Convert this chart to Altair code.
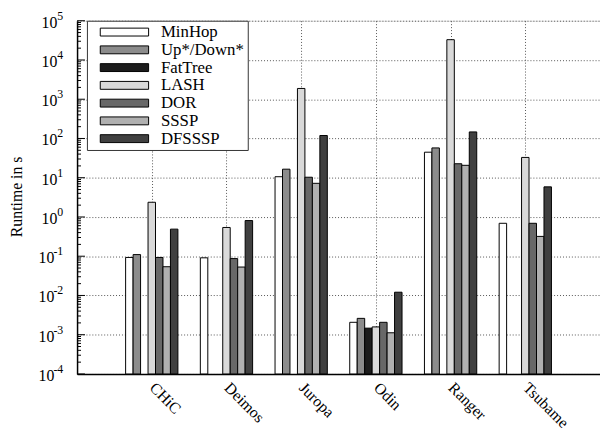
import altair as alt
import pandas as pd

systems = ["CHiC", "Deimos", "Juropa", "Odin", "Ranger", "Tsubame"]
series = ["MinHop", "Up*/Down*", "FatTree", "LASH", "DOR", "SSSP", "DFSSSP"]
colors = ["#ffffff", "#8c8c8c", "#1c1c1c", "#d9d9d9", "#686868", "#b0b0b0", "#404040"]

# runtime in seconds, None = not available
minhop = [0.093, 0.091, 10.6, 0.00207, 44.7, 0.69]
updown = [0.11, None, 16.5, 0.00261, 57.5, None]
fattree = [None, None, None, 0.00147, None, None]
lash = [2.37, 0.54, 1880, 0.00158, 32900, 32.9]
dor = [0.093, 0.087, 10.3, 0.00207, 22.7, 0.69]
sssp = [0.054, 0.053, 7.2, 0.00112, 20.7, 0.32]
dfsssp = [0.49, 0.81, 119, 0.0121, 147, 5.85]

exponents = [-4, -3, -2, -1, 0, 1, 2, 3, 4, 5]

values = [minhop, updown, fattree, lash, dor, sssp, dfsssp]
rows = []
for si, (name, vals) in enumerate(zip(series, values)):
    for ci, v in enumerate(vals):
        if v is not None:
            rows.append({"system": systems[ci], "cidx": ci, "series": name, "sidx": si, "runtime": v})
df = pd.DataFrame(rows)

decades = [10.0 ** e for e in exponents]
minor = [m * 10.0 ** e for e in exponents[:-1] for m in range(2, 10)]
ticks_df = pd.DataFrame({"v": decades})
minor_df = pd.DataFrame({"v": minor})
lab_df = pd.DataFrame({"e": exponents, "v": decades, "base": ["10"] * len(exponents),
                       "sup": [str(e) for e in exponents]})

FONT = "Liberation Serif"
yscale = alt.Scale(type="log", domain=[1e-4, 1e5], nice=False)
xscale = alt.Scale(domain=[-1, 6], nice=False, zero=False)

label_expr = "[" + ",".join("'%s'" % s for s in systems) + "][datum.value]"

bars = alt.Chart(df).transform_calculate(
    xl="datum.cidx + (datum.sidx - 3) * 0.1 - 0.05",
    xr="datum.cidx + (datum.sidx - 3) * 0.1 + 0.05",
).mark_bar(stroke="black", strokeWidth=1, opacity=1).encode(
    x=alt.X("xl:Q", scale=xscale,
            axis=alt.Axis(values=list(range(len(systems))), labelExpr=label_expr,
                          title=None, ticks=False, labelAngle=45, labelAlign="left",
                          labelBaseline="middle", labelPadding=11, labelFont=FONT,
                          labelFontSize=16, labelColor="black",
                          grid=True, gridDash=[1, 2], gridColor="#555555", gridWidth=1,
                          domainColor="black", domainWidth=1.5)),
    x2="xr:Q",
    y=alt.Y("runtime:Q", scale=yscale,
            axis=alt.Axis(values=decades, labels=False, ticks=False,
                          title="Runtime in s", titleFont=FONT, titleFontSize=16,
                          titleFontWeight="normal", titleColor="black",
                          titleX=-61, titleY=178, titleAlign="center", titleBaseline="middle",
                          titleAngle=270,
                          grid=True, gridDash=[1, 2], gridColor="#555555", gridWidth=1,
                          domainColor="black", domainWidth=1.5)),
    y2=alt.datum(1e-4),
    fill=alt.Fill("series:N", scale=alt.Scale(domain=series, range=colors),
                  legend=alt.Legend(title=None, orient="none", legendX=10, legendY=0,
                                    symbolType="M0.5,-1H12.75V1H0.5Z", symbolSize=64,
                                    symbolStrokeColor="black", symbolStrokeWidth=1,
                                    symbolOpacity=1, labelOffset=55, labelFont=FONT,
                                    labelFontSize=17, labelColor="black",
                                    rowPadding=0, padding=3, strokeColor="#333333",
                                    fillColor="white")),
)

major_ticks = alt.Chart(ticks_df).mark_rule(color="black", strokeWidth=1).encode(
    y=alt.Y("v:Q", scale=yscale), x=alt.value(0), x2=alt.value(8))
minor_ticks = alt.Chart(minor_df).mark_rule(color="black", strokeWidth=1).encode(
    y=alt.Y("v:Q", scale=yscale), x=alt.value(0), x2=alt.value(4))

base_pos = alt.Chart(lab_df).transform_filter("datum.e >= 0").mark_text(
    font=FONT, fontSize=16, align="right", baseline="alphabetic", dy=7, color="black"
).encode(y=alt.Y("v:Q", scale=yscale), x=alt.value(-20), text="base:N")
base_neg = alt.Chart(lab_df).transform_filter("datum.e < 0").mark_text(
    font=FONT, fontSize=16, align="right", baseline="alphabetic", dy=7, color="black"
).encode(y=alt.Y("v:Q", scale=yscale), x=alt.value(-23), text="base:N")
sup = alt.Chart(lab_df).mark_text(
    font=FONT, fontSize=12, align="right", baseline="alphabetic", dy=-1, color="black"
).encode(y=alt.Y("v:Q", scale=yscale), x=alt.value(-14), text="sup:N")

chart = alt.layer(bars, major_ticks, minor_ticks, base_pos, base_neg, sup).properties(
    width=530, height=358,
    padding={"left": 70, "top": 10, "right": 0, "bottom": 62},
    autosize=alt.AutoSizeParams(type="none"),
).configure_view(stroke="black", strokeWidth=1.5).configure(background="white")

chart.save("out.html", embed_options={"renderer": "svg", "actions": False})
